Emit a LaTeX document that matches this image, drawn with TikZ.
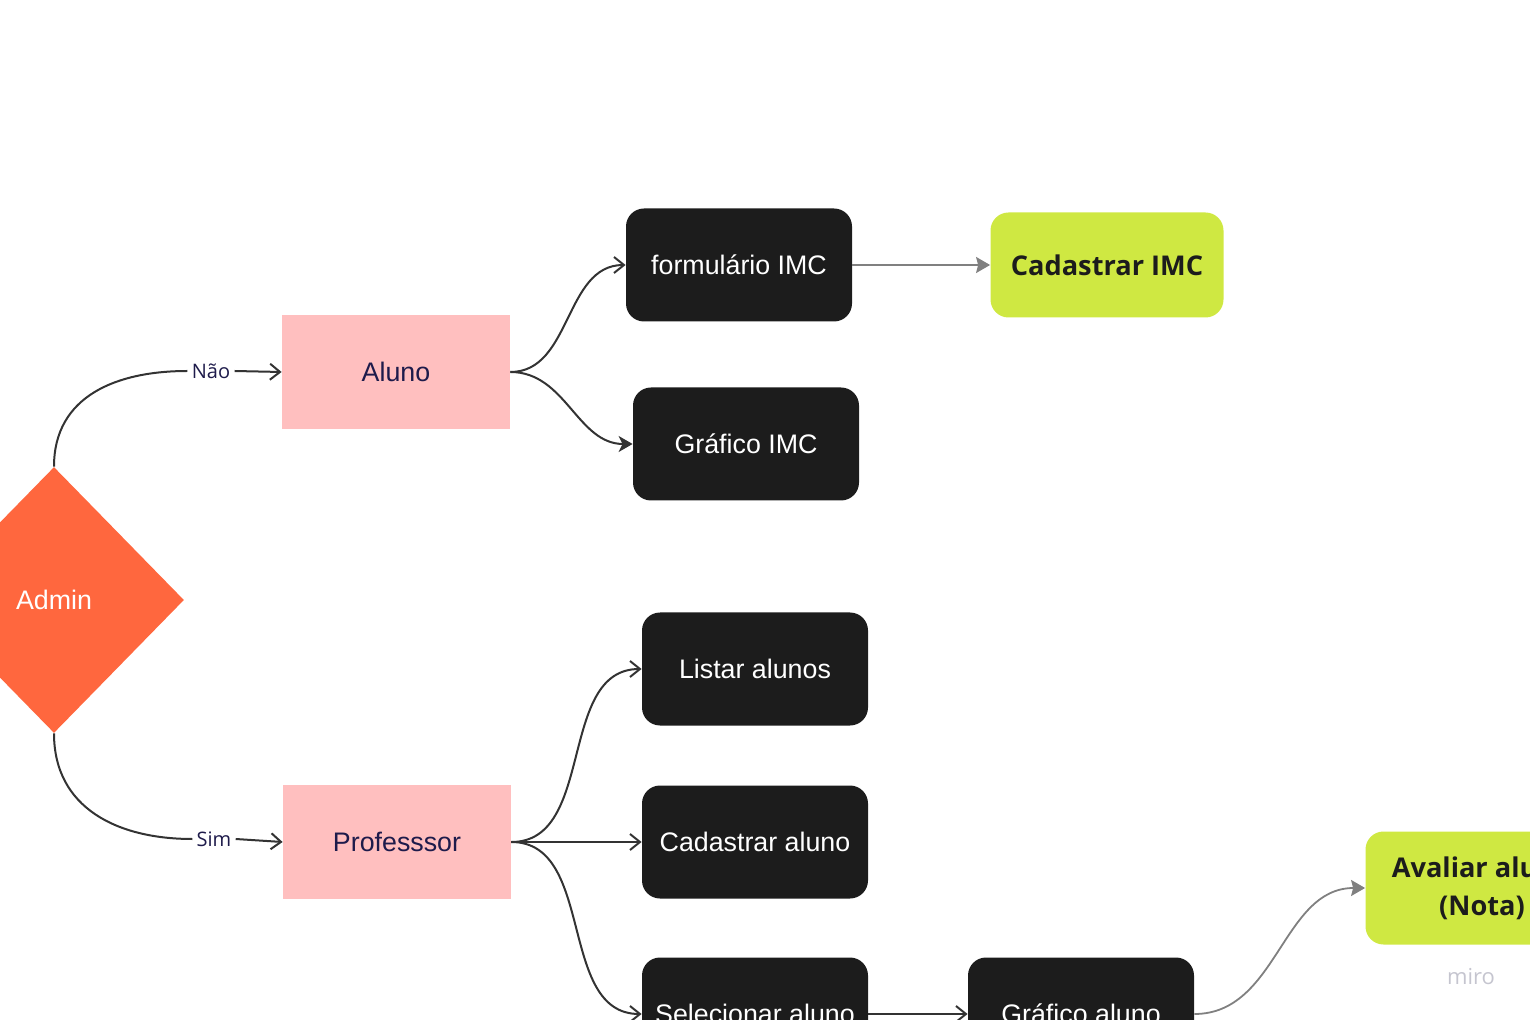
\documentclass[tikz,border=0pt]{standalone}
\usepackage{fontspec}
\setmainfont{Liberation Sans}
\newfontfamily\opensans{Open Sans}
\usetikzlibrary{arrows.meta,shapes.geometric}

\definecolor{admincol}{HTML}{FF673E}
\definecolor{pinkcol}{HTML}{FFBFBF}
\definecolor{boxcol}{HTML}{1C1C1C}
\definecolor{limecol}{HTML}{CFE842}
\definecolor{linecol}{HTML}{333333}
\definecolor{greycol}{HTML}{808080}
\definecolor{navycol}{HTML}{1E1B4B}
\definecolor{mirocol}{HTML}{C5C5CF}

\tikzset{
  darkbox/.style={fill=boxcol,rounded corners=9pt,minimum width=113pt,
    minimum height=56.5pt,text=white,font=\fontsize{13.4}{16}\selectfont},
  rolebox/.style={fill=pinkcol,minimum width=114pt,minimum height=57pt,
    text=navycol,font=\fontsize{13.4}{16}\selectfont},
  limebox/.style={fill=limecol,rounded corners=9pt,minimum width=116.5pt,
    text=boxcol,align=center,font=\opensans\bfseries\fontsize{13.6}{19}\selectfont},
  answer/.style={fill=white,inner sep=2pt,text=navycol,
    font=\opensans\fontsize{10}{12}\selectfont},
  conn/.style={draw=linecol,line width=1pt,
    -{Straight Barb[length=5pt,width=8pt,line width=1pt]}},
  fillconn/.style={draw=linecol,line width=1pt,
    -{Stealth[length=7pt,width=8pt,inset=2pt]}},
  greyconn/.style={draw=greycol,line width=0.9pt,
    -{Stealth[length=7pt,width=8pt,inset=1pt]}}
}

\begin{document}
\begin{tikzpicture}[x=0.5pt,y=-0.5pt]

    \useasboundingbox (0,0) rectangle (1530,1020);

    % decision
    \node[diamond,fill=admincol,inner sep=0pt,minimum width=130pt,
      minimum height=133pt,text=white,font=\fontsize{13.4}{16}\selectfont]
      (admin) at (54,600) {Admin};

    % roles
    \node[rolebox] (aluno) at (396,372) {Aluno};
    \node[rolebox] (professor) at (397,842) {Professsor};

    \node[answer] (nao) at (211,371) {Não};
    \node[answer] (sim) at (214,839) {Sim};

    % aluno side
    \node[darkbox] (formimc) at (739,265) {formulário IMC};
    \node[darkbox] (grafimc) at (746,444) {Gráfico IMC};
    \node[limebox,minimum height=52.5pt] (cadimc) at (1107,265) {Cadastrar IMC};

    % professor side
    \node[darkbox] (listar) at (755,669) {Listar alunos};
    \node[darkbox] (cadaluno) at (755,842) {Cadastrar aluno};
    \node[darkbox] (selaluno) at (755,1014) {Selecionar aluno};
    \node[darkbox] (grafaluno) at (1081,1014) {Gráfico aluno};
    \node[limebox,minimum height=56.5pt] (avaliar) at (1482,888)
      {Avaliar aluno\\(Nota)};

    \node[text=mirocol,font=\opensans\fontsize{11}{13}\selectfont]
      (miro) at (1471,977) {miro};

    % connectors
    \draw[draw=linecol,line width=1pt] (admin.north)
      to[out=90,in=180,looseness=1.1] (nao.west);
    \draw[conn] (nao.east) -- (aluno.west);
    \draw[draw=linecol,line width=1pt] (admin.south)
      to[out=-90,in=180,looseness=1.1] (sim.west);
    \draw[conn] (sim.east) -- (professor.west);

    \draw[conn] (aluno.east) to[out=0,in=180] (formimc.west);
    \draw[fillconn] (aluno.east) to[out=0,in=180] (grafimc.west);
    \draw[greyconn] (formimc.east) -- (cadimc.west);

    \draw[conn] (professor.east) to[out=0,in=180] (listar.west);
    \draw[conn] (professor.east) -- (cadaluno.west);
    \draw[conn] (professor.east) to[out=0,in=180] (selaluno.west);
    \draw[conn] (selaluno.east) -- (grafaluno.west);
    \draw[greyconn] (grafaluno.east) to[out=0,in=180] (avaliar.west);

  \end{tikzpicture}
\end{document}
